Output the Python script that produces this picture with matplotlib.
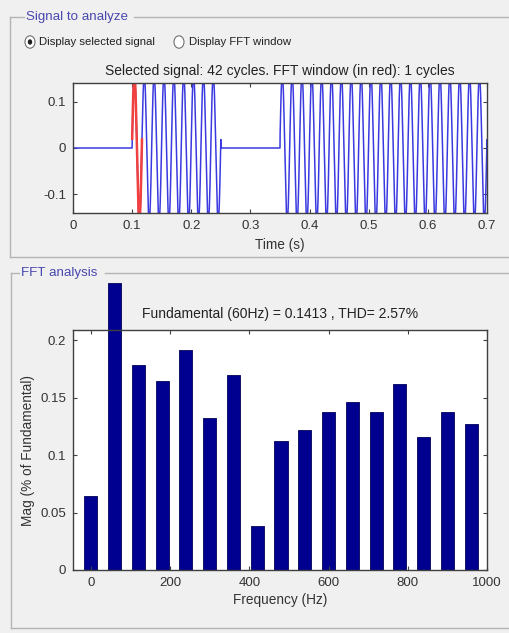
import numpy as np
import matplotlib
matplotlib.use('Agg')
import matplotlib.pyplot as plt
from matplotlib.lines import Line2D
from matplotlib.patches import Circle

plt.rcParams['font.family'] = ['Liberation Sans', 'DejaVu Sans']
plt.rcParams['axes.unicode_minus'] = False

# signal parameters
f0 = 60.0
sig_amp = 0.16
sig_phase = 0.12
on_segments = [(0.10, 0.25), (0.35, 0.70)]
fft_start = 0.10
fft_cycles = 1
t_end = 0.7
sig_ylim = 0.1413

# FFT bars
freqs = [0, 60, 120, 180, 240, 300, 360, 420, 480, 540, 600, 660, 720, 780, 840, 900, 960]
mags = [0.064, 0.25, 0.178, 0.164, 0.191, 0.132, 0.170, 0.038, 0.112, 0.122,
        0.137, 0.146, 0.137, 0.162, 0.116, 0.137, 0.127]

W, H = 510, 633
BG = '#f0f0f0'
TXT = '#333333'
FRAME = '#404040'


def fx(x):
    return x / W


def fy(y):
    return 1 - y / H


def styleAxes(ax):
    ax.set_facecolor('white')
    for s in ax.spines.values():
        s.set_color(FRAME)
        s.set_linewidth(1.0)
    ax.tick_params(direction='in', length=3, width=0.8, color=FRAME,
                   top=True, right=True, labelsize=9.5, labelcolor=TXT, pad=5)


def groupBox(top, bottom, left, title, title_x0, title_x1):
    kw = dict(transform=fig.transFigure, color='#b4b4b4', lw=1.0)
    fig.add_artist(Line2D([fx(left), fx(title_x0)], [fy(top), fy(top)], **kw))
    fig.add_artist(Line2D([fx(title_x1), 1.0], [fy(top), fy(top)], **kw))
    fig.add_artist(Line2D([fx(left), fx(left)], [fy(top), fy(bottom)], **kw))
    fig.add_artist(Line2D([fx(left), 1.0], [fy(bottom), fy(bottom)], **kw))
    fig.text(fx(title_x0 + 2), fy(top), title, color='#4848b0', fontsize=9.6,
             va='center', ha='left')


fig = plt.figure(figsize=(W / 100, H / 100), dpi=100, facecolor=BG)

groupBox(17, 257, 10, 'Signal to analyze', 24, 134)
groupBox(273, 628, 11, 'FFT analysis', 19, 105)

# radio buttons
fig.add_artist(Circle((fx(30), fy(42)), 5 / W, transform=fig.transFigure,
                      facecolor='white', edgecolor='#707070', lw=0.8))
fig.add_artist(Circle((fx(30), fy(42)), 2.2 / W, transform=fig.transFigure,
                      facecolor='#202020', edgecolor='none'))
fig.add_artist(Circle((fx(179), fy(42)), 5 / W, transform=fig.transFigure,
                      facecolor='white', edgecolor='#707070', lw=0.8))
fig.text(fx(39), fy(42), 'Display selected signal', fontsize=8.2, color='#202020',
         va='center', ha='left')
fig.text(fx(189), fy(42), 'Display FFT window', fontsize=8.2, color='#202020',
         va='center', ha='left')

# ---- signal axes
ax1 = fig.add_axes([fx(73), fy(213), fx(487) - fx(73), fy(83) - fy(213)])
styleAxes(ax1)
t = np.linspace(0, t_end, 40001)
sig = np.zeros_like(t)
for a, b in on_segments:
    m = (t >= a) & (t < b)
    sig[m] = sig_amp * np.sin(2 * np.pi * f0 * (t[m] - fft_start) + sig_phase)
ax1.plot(t, sig, color='#3a3ae0', lw=1.1)
mr = (t >= fft_start) & (t <= fft_start + fft_cycles / f0)
ax1.plot(t[mr], sig[mr], color='#f04040', lw=1.8)
ax1.set_xlim(0, t_end)
ax1.set_ylim(-sig_ylim, sig_ylim)
ax1.set_xticks(np.arange(0, 0.71, 0.1))
ax1.set_xticklabels(['0', '0.1', '0.2', '0.3', '0.4', '0.5', '0.6', '0.7'])
ax1.set_yticks([-0.1, 0, 0.1])
ax1.set_yticklabels(['-0.1', '0', '0.1'])
ax1.set_xlabel('Time (s)', fontsize=9.8, color=TXT, labelpad=4)
ax1.set_title('Selected signal: 42 cycles. FFT window (in red): 1 cycles',
              fontsize=10, color='#222222', pad=6)

# ---- FFT axes
ax2 = fig.add_axes([fx(73), fy(570), fx(487) - fx(73), fy(330) - fy(570)])
styleAxes(ax2)
bars = ax2.bar(freqs, mags, width=33, color='#000090', edgecolor='#00005a', lw=0.6)
for b in bars:
    b.set_clip_on(False)
ax2.set_xlim(-45, 1000)
ax2.set_ylim(0, 0.2087)
ax2.set_xticks([0, 200, 400, 600, 800, 1000])
ax2.set_yticks([0, 0.05, 0.1, 0.15, 0.2])
ax2.set_yticklabels(['0', '0.05', '0.1', '0.15', '0.2'])
ax2.set_xlabel('Frequency (Hz)', fontsize=9.8, color=TXT, labelpad=3)
ax2.set_ylabel('Mag (% of Fundamental)', fontsize=9.8, color=TXT, labelpad=4)
ax2.set_title('Fundamental (60Hz) = 0.1413 , THD= 2.57%',
              fontsize=10, color='#222222', pad=9)

fig.savefig('out.png', dpi=100, facecolor=BG)
